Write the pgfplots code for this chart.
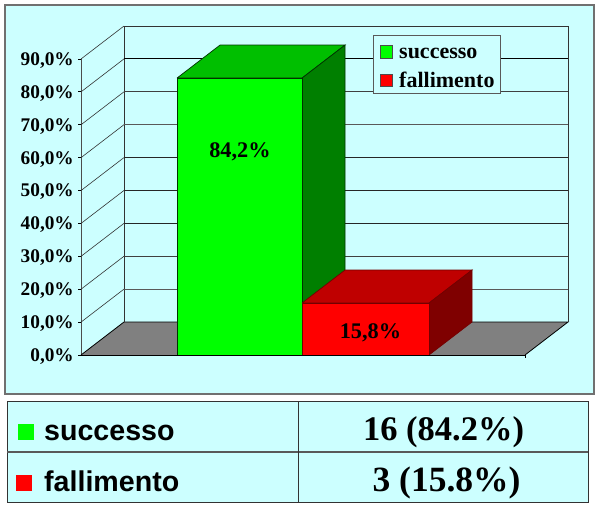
\documentclass[border=0pt]{standalone}
\usepackage{pgfplots}
\pgfplotsset{compat=1.18}
\usepackage{fontspec}
\setmainfont{Liberation Serif}
\newfontfamily\armo{Liberation Sans}
\definecolor{panel}{HTML}{CCFFFF}
\definecolor{gedge}{HTML}{707070}
\definecolor{lgreen}{HTML}{00FF00}
\definecolor{mgreen}{HTML}{00BF00}
\definecolor{dgreen}{HTML}{007F00}
\definecolor{lred}{HTML}{FF0000}
\definecolor{mred}{HTML}{BF0000}
\definecolor{dred}{HTML}{7F0000}
\begin{document}
\begin{tikzpicture}[x=1pt,y=1pt]
\path[use as bounding box] (0,0) rectangle (600,504);
\fill[white] (0,0) rectangle (600,504);
% outer panel
\filldraw[fill=panel,draw=gedge,line width=1.2pt] (5,110) rectangle (594,499);
% lower table
\filldraw[fill=panel,draw=black!80,line width=0.8pt] (7,2) rectangle (588,103);
\draw[black!65,line width=1.2pt] (7,52) -- (588,52);
\draw[black!80,line width=0.8pt] (298,2) -- (298,103);
\fill[lgreen] (18,64) rectangle (34,80);
\fill[lred] (16,13) rectangle (32,29);
\node[anchor=base west,inner sep=0pt,font=\armo\bfseries\fontsize{28.6}{30}\selectfont] at (44,64) {successo};
\node[anchor=base west,inner sep=0pt,font=\armo\bfseries\fontsize{28.6}{30}\selectfont] at (44,13) {fallimento};
\node[anchor=base,inner sep=0pt,font=\bfseries\fontsize{34.5}{36}\selectfont] at (443.5,63.5) {16 (84.2\%)};
\node[anchor=base,inner sep=0pt,font=\bfseries\fontsize{35.5}{36}\selectfont] at (446.5,13) {3 (15.8\%)};
\begin{axis}[
  at={(81pt,149pt)},anchor=origin,
  scale only axis,width=444pt,height=296pt,
  xmin=81,xmax=525,ymin=0,ymax=90,
  clip=false,
  axis x line=none,
  axis y line=left,
  axis line style={draw=black!70,line width=0.8pt,-},
  ytick={0,10,20,30,40,50,60,70,80,90},
  yticklabels={{0,0\%},{10,0\%},{20,0\%},{30,0\%},{40,0\%},{50,0\%},{60,0\%},{70,0\%},{80,0\%},{90,0\%}},
  yticklabel style={font=\bfseries\fontsize{19.3}{20}\selectfont,text=black,inner sep=0pt,xshift=-4pt,yshift=-1.5pt},
  y tick style={draw=black,line width=0.8pt},
  tick align=outside,
  major tick length=3pt,
]
% floor
\addplot[draw=none,fill=gray] coordinates {(81,0) (124,10.03) (568,10.03) (525,0) (81,0)};
\addplot[black,line width=0.8pt] coordinates {(81,0) (124,10.03) (568,10.03) (525,0)};
\addplot[black!80,line width=0.9pt] coordinates {(124,10.03) (124,100.03) (568,100.03) (568,10.03)};
\addplot[black,line width=0.8pt] coordinates {(81,0) (525,0)};
\addplot[black,line width=0.7pt] coordinates {(525,0) (525,-1)};
% grid: back wall
\addplot[black!65,line width=0.8pt] coordinates {(124,20.03) (568,20.03)};
\addplot[black!75,line width=0.8pt] coordinates {(124,30.03) (568,30.03)};
\addplot[black!85,line width=0.8pt] coordinates {(124,40.03) (568,40.03)};
\addplot[black!85,line width=0.8pt] coordinates {(124,50.03) (568,50.03)};
\addplot[black!85,line width=0.8pt] coordinates {(124,60.03) (568,60.03)};
\addplot[black!65,line width=1.2pt] coordinates {(124,70.03) (568,70.03)};
\addplot[black!75,line width=0.8pt] coordinates {(124,80.03) (568,80.03)};
\addplot[black,line width=0.8pt] coordinates {(124,90.03) (568,90.03)};
% grid: side wall
\addplot[black!80,line width=0.6pt] coordinates {(81,10) (124,20.03)};
\addplot[black!80,line width=0.6pt] coordinates {(81,20) (124,30.03)};
\addplot[black!80,line width=0.6pt] coordinates {(81,30) (124,40.03)};
\addplot[black!80,line width=0.6pt] coordinates {(81,40) (124,50.03)};
\addplot[black!80,line width=0.6pt] coordinates {(81,50) (124,60.03)};
\addplot[black!80,line width=0.6pt] coordinates {(81,60) (124,70.03)};
\addplot[black!80,line width=0.6pt] coordinates {(81,70) (124,80.03)};
\addplot[black!80,line width=0.6pt] coordinates {(81,80) (124,90.03)};
\addplot[black!80,line width=0.6pt] coordinates {(81,90) (124,100.03)};
% green bar
\addplot[draw=black!80!green,line width=0.7pt,fill=mgreen] coordinates {(177,84.2) (220,94.23) (345,94.23) (302,84.2) (177,84.2)};
\addplot[draw=black!80!green,line width=0.7pt,fill=dgreen] coordinates {(302,0) (345,10.03) (345,94.23) (302,84.2) (302,0)};
\addplot[draw=black!80!green,line width=0.7pt,fill=lgreen] coordinates {(177,0) (302,0) (302,84.2) (177,84.2) (177,0)};
% red bar
\addplot[draw=black!55!red,line width=0.7pt,fill=mred] coordinates {(302,15.8) (345,25.83) (472,25.83) (429,15.8) (302,15.8)};
\addplot[draw=black!55!red,line width=0.7pt,fill=dred] coordinates {(429,0) (472,10.03) (472,25.83) (429,15.8) (429,0)};
\addplot[draw=black!55!red,line width=0.7pt,fill=lred] coordinates {(302,0) (429,0) (429,15.8) (302,15.8) (302,0)};
\addplot[black,line width=0.8pt] coordinates {(177,0) (525,0)};
\node[font=\bfseries\fontsize{22.3}{24}\selectfont,inner sep=0pt] at (axis cs:240,61.8) {84,2\%};
\node[font=\bfseries\fontsize{22.3}{24}\selectfont,inner sep=0pt] at (axis cs:370.5,6.7) {15,8\%};
\end{axis}
% legend
\filldraw[fill=panel,draw=black!65,line width=0.9pt] (373.5,410.5) rectangle (500,469);
\filldraw[fill=lgreen,draw=black!70,line width=0.6pt] (380,446) rectangle (392.5,458.5);
\filldraw[fill=lred,draw=black!70,line width=0.6pt] (380,417.5) rectangle (392.5,430);
\node[anchor=base west,inner sep=0pt,font=\bfseries\fontsize{22}{23}\selectfont] at (399,445) {successo};
\node[anchor=base west,inner sep=0pt,font=\bfseries\fontsize{22}{23}\selectfont] at (399,416.5) {fallimento};
\end{tikzpicture}
\end{document}
